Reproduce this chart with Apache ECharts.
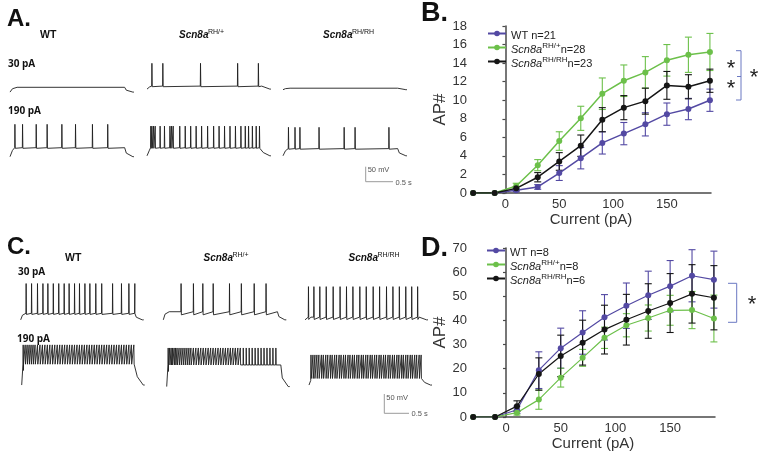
<!DOCTYPE html>
<html>
<head>
<meta charset="utf-8">
<script src="https://cdn.jsdelivr.net/npm/echarts@6/dist/echarts.min.js"></script>
<style>
  html, body { margin: 0; padding: 0; background: #fff; }
  #chart { width: 764px; height: 453px; }
</style>
</head>
<body>
<div id="chart"></div>
<script>
// ---- summary data (B and D) ----
const currents = [-30, -10, 10, 30, 50, 70, 90, 110, 130, 150, 170, 190];

const bWt = [0, 0, 0.3, 0.65, 2.15, 3.75, 5.4, 6.4, 7.4, 8.5, 9.05, 10.0];
const bWtErr = [0, 0, 0.15, 0.25, 0.8, 1.15, 1.2, 1.2, 1.25, 1.2, 1.15, 1.2];
const bHet = [0, 0, 0.75, 3.0, 5.6, 8.05, 10.7, 12.1, 13.0, 14.3, 14.9, 15.2];
const bHetErr = [0, 0, 0.3, 0.6, 1.0, 1.3, 1.7, 1.7, 1.7, 1.7, 1.9, 2.0];
const bHom = [0, 0, 0.5, 1.7, 3.4, 5.1, 7.9, 9.2, 9.9, 11.6, 11.45, 12.1];
const bHomErr = [0, 0, 0.2, 0.5, 0.95, 1.15, 1.3, 1.3, 1.4, 1.5, 1.3, 1.25];

const dWt = [0, 0, 3.0, 19.4, 28.5, 35.0, 41.3, 46.1, 50.4, 54.2, 58.5, 56.9];
const dWtErr = [0, 0, 1.5, 7.6, 8.3, 9.0, 9.4, 9.4, 10.0, 10.6, 10.8, 11.8];
const dHet = [0, 0, 1.8, 7.2, 16.3, 24.5, 32.8, 38.0, 41.0, 44.2, 44.3, 40.8];
const dHetErr = [0, 0, 1.0, 4.0, 3.9, 3.5, 4.4, 4.8, 5.4, 6.2, 7.7, 9.7];
const dHom = [0, 0, 4.5, 17.8, 25.3, 30.8, 36.2, 40.3, 43.9, 47.2, 51.0, 49.4];
const dHomErr = [0, 0, 2.2, 6.7, 8.6, 9.3, 10.1, 10.5, 11.3, 12.2, 12.1, 13.3];

// ---- example traces: spike times (s) ----
const aWt30 = [];
const aHet30 = [0.09, 0.29, 0.98, 1.66, 2.04];
const aHom30 = [];
const aWt190 = [0.09, 0.23, 0.48, 0.68, 0.95, 1.20, 1.51, 1.79];
const aHet190 = [0.07, 0.09, 0.12, 0.15, 0.24, 0.32, 0.42, 0.45, 0.48, 0.60, 0.70, 0.80, 0.90, 1.00,
  1.11, 1.22, 1.32, 1.42, 1.52, 1.62, 1.72, 1.80, 1.86, 1.93, 2.00, 2.06];
const aHom190 = [0.10, 0.22, 0.31, 0.66, 1.12, 1.32, 1.94];

const cWt30 = [0.11, 0.22, 0.34, 0.45, 0.55, 0.66, 0.77, 0.88, 0.98, 1.09, 1.19, 1.30, 1.40, 1.52,
  1.64, 1.86, 2.04, 2.19, 2.31];
const cHet30 = [0.36, 0.61, 0.80, 1.01, 1.34, 1.58, 1.84, 2.08];
const cHom30 = [0.07, 0.18, 0.30, 0.43, 0.57, 0.71, 0.84, 0.97, 1.11, 1.24, 1.38, 1.51, 1.65, 1.78,
  1.91, 2.04, 2.16, 2.28];
const cWt190 = [0.03, 0.07, 0.11, 0.15, 0.19, 0.23, 0.27, 0.32, 0.37, 0.42, 0.47, 0.52, 0.57, 0.62,
  0.67, 0.72, 0.77, 0.82, 0.87, 0.92, 0.97, 1.02, 1.07, 1.12, 1.17, 1.22, 1.27, 1.32, 1.37, 1.42,
  1.47, 1.52, 1.57, 1.62, 1.67, 1.72, 1.77, 1.82, 1.87, 1.92, 1.97, 2.02, 2.07, 2.12, 2.17, 2.22, 2.27];
const cHet190 = [0.03, 0.06, 0.09, 0.12, 0.15, 0.18, 0.21, 0.25, 0.29, 0.33, 0.37, 0.41, 0.45, 0.49,
  0.54, 0.59, 0.64, 0.69, 0.74, 0.79, 0.84, 0.89, 0.94, 0.99, 1.04, 1.09, 1.14, 1.19, 1.24, 1.29,
  1.34, 1.39, 1.44, 1.49, 1.55, 1.61, 1.67, 1.73, 1.79, 1.85, 1.91, 1.97, 2.03, 2.09, 2.15, 2.21];
const cHom190 = [0.04, 0.08, 0.12, 0.16, 0.20, 0.25, 0.29, 0.34, 0.38, 0.43, 0.47, 0.52, 0.56, 0.61,
  0.65, 0.70, 0.74, 0.79, 0.83, 0.88, 0.92, 0.97, 1.01, 1.06, 1.10, 1.15, 1.19, 1.24, 1.28, 1.33,
  1.37, 1.42, 1.46, 1.51, 1.55, 1.60, 1.64, 1.69, 1.73, 1.78, 1.82, 1.87, 1.91, 1.96, 2.00, 2.05,
  2.09, 2.14, 2.18, 2.23, 2.27];

// membrane levels (mV) per trace: WT, RH/+, RH/RH at 30 pA then 190 pA
const aRest = [-70, -60, -62, -75, -72, -72];
const aPlateau = [-54, -50, -57, -45, -45, -48];
const aPeak = [20, 26, 20, 33, 27, 23];
const aAhp = [0, 2, 0, 2, 2, 2];
const cRest = [-72, -72, -72, -72, -76, -72];
const cPlateau = [-55, -51, -65, -18, -20, -55];
const cPeak = [22, 22, 14, 32, 24, 6];
const cAhp = [3, 8, 6, 0, 0, 0];

const FONT = '"Liberation Sans", Arial, sans-serif';
const BLUE = '#5349a3';
const GREEN = '#6cc04a';
const BLACK = '#151515';
const V_MIN = -90, V_MAX = 40;

const panelA = {
  spikes: [aWt30, aHet30, aHom30, aWt190, aHet190, aHom190],
  rest: aRest, plat: aPlateau, peak: aPeak, ahp: aAhp,
  pxPerS: 54.6, pxPerMv: 0.3, onset: 0.03, offset: 2.1, T: 2.27,
  lefts: [10, 147, 283, 10, 147, 283],
  tops: [59.1, 59.1, 59.1, 122.2, 122.2, 122.2]
};
const panelC = {
  spikes: [cWt30, cHet30, cHom30, cWt190, cHet190, cHom190],
  rest: cRest, plat: cPlateau, peak: cPeak, ahp: cAhp,
  pxPerS: 49.4, pxPerMv: 0.386, onset: 0.02, offset: 2.31, T: 2.49,
  lefts: [20.7, 163.3, 305, 21.7, 166.7, 309],
  tops: [276.6, 276.6, 276.6, 341.8, 341.8, 341.8]
};

function buildTrace(p, k) {
  const rest = p.rest[k], plat = p.plat[k], peak = p.peak[k], ahp = p.ahp[k];
  const pts = [[0, rest], [p.onset, rest], [p.onset + 0.015, rest + (plat - rest) * 0.7], [p.onset + 0.1, plat]];
  p.spikes[k].forEach(s => {
    pts.push([s - 0.004, plat], [s, peak], [s + 0.006, plat - ahp]);
  });
  pts.push([p.offset, plat], [p.offset + 0.03, rest + (plat - rest) * 0.4], [p.offset + 0.15, rest], [p.T, rest]);
  return pts.sort((a, b) => a[0] - b[0]);
}

const grids = [], xAxes = [], yAxes = [], series = [];

[panelA, panelC].forEach(p => {
  for (let k = 0; k < 6; k++) {
    const gi = grids.length;
    grids.push({
      left: p.lefts[k], top: p.tops[k],
      width: p.T * p.pxPerS, height: (V_MAX - V_MIN) * p.pxPerMv
    });
    xAxes.push({ gridIndex: gi, type: 'value', min: 0, max: p.T, show: false });
    yAxes.push({ gridIndex: gi, type: 'value', min: V_MIN, max: V_MAX, show: false });
    series.push({
      type: 'line', xAxisIndex: gi, yAxisIndex: gi, data: buildTrace(p, k),
      showSymbol: false, silent: true, lineStyle: { color: '#1e1e1e', width: 0.9 }
    });
  }
});

// summary charts
function errRender(params, api) {
  const x = api.value(0);
  const lo = api.coord([x, api.value(1)]);
  const hi = api.coord([x, api.value(2)]);
  const w = 3.5;
  const style = { stroke: api.visual('color'), lineWidth: 1.1 };
  return {
    type: 'group',
    children: [
      { type: 'line', shape: { x1: lo[0], y1: lo[1], x2: hi[0], y2: hi[1] }, style },
      { type: 'line', shape: { x1: lo[0] - w, y1: lo[1], x2: lo[0] + w, y2: lo[1] }, style },
      { type: 'line', shape: { x1: hi[0] - w, y1: hi[1], x2: hi[0] + w, y2: hi[1] }, style }
    ]
  };
}

function addSummary(gridBox, yMax, yStep, sets, lineW) {
  const gi = grids.length;
  grids.push(gridBox);
  xAxes.push({
    gridIndex: gi, type: 'value', min: -32, max: 191,
    axisLine: { show: true, onZero: false, lineStyle: { color: '#4a4a4a', width: 1.5 } },
    axisTick: { show: false }, splitLine: { show: false },
    axisLabel: { customValues: [0, 50, 100, 150], fontSize: 13, color: '#333', margin: 5, fontFamily: FONT },
    name: 'Current (pA)', nameLocation: 'middle', nameGap: 16,
    nameTextStyle: { fontSize: 15, color: '#333', fontFamily: FONT }
  });
  yAxes.push({
    gridIndex: gi, type: 'value', min: 0, max: yMax, interval: yStep,
    axisLine: { show: true, lineStyle: { color: '#4a4a4a', width: 1.5 } },
    axisTick: { show: true, length: 3, lineStyle: { color: '#4a4a4a', width: 1.2 } },
    splitLine: { show: false },
    axisLabel: { fontSize: 13, color: '#333', margin: 4, fontFamily: FONT },
    name: 'AP#', nameLocation: 'middle', nameGap: 16, nameRotate: 90,
    nameTextStyle: { fontSize: 17, color: '#333', fontFamily: FONT }
  });
  sets.forEach(s => {
    series.push({
      type: 'custom', name: s.name + ' err', xAxisIndex: gi, yAxisIndex: gi,
      renderItem: errRender, itemStyle: { color: s.color }, z: 3, silent: true,
      data: currents.map((c, i) => [c, s.v[i] - s.e[i], s.v[i] + s.e[i], s.e[i]]).filter(d => d[3] > 0)
    });
  });
  sets.forEach(s => {
    series.push({
      type: 'line', name: s.name, xAxisIndex: gi, yAxisIndex: gi,
      data: currents.map((c, i) => [c, s.v[i]]),
      symbol: 'circle', symbolSize: 6, z: 4,
      itemStyle: { color: s.color }, lineStyle: { color: s.color, width: lineW }
    });
  });
}

addSummary({ left: 471, top: 26, width: 240, height: 167 }, 18, 2, [
  { name: 'WT n=21', v: bWt, e: bWtErr, color: BLUE },
  { name: 'Scn8a RH/+ n=28', v: bHet, e: bHetErr, color: GREEN },
  { name: 'Scn8a RH/RH n=23', v: bHom, e: bHomErr, color: BLACK }
], 1.5);
addSummary({ left: 471, top: 248, width: 244, height: 169 }, 70, 10, [
  { name: 'WT n=8', v: dWt, e: dWtErr, color: BLUE },
  { name: 'Scn8a RH/+ n=8', v: dHet, e: dHetErr, color: GREEN },
  { name: 'Scn8a RH/RH n=6', v: dHom, e: dHomErr, color: BLACK }
], 1.2);

const legendRich = {
  t: { fontSize: 11, color: '#222', fontFamily: FONT, lineHeight: 11, padding: [4, 0, 0, 0] },
  i: { fontSize: 11, color: '#222', fontFamily: FONT, fontStyle: 'italic', lineHeight: 11, padding: [4, 0, 0, 0] },
  s: { fontSize: 8, color: '#222', fontFamily: FONT, lineHeight: 8, verticalAlign: 'top' }
};
function legendFmt(name) {
  if (name.startsWith('WT')) return '{t|' + name + '}';
  const parts = name.split(' ');
  return '{i|' + parts[0] + '}{s|' + parts[1] + '}{t|' + parts[2] + '}';
}
function makeLegend(names, left, top) {
  return {
    data: names, left, top, orient: 'vertical', itemWidth: 18, itemHeight: 7, itemGap: -1,
    selectedMode: false, formatter: legendFmt, textStyle: { rich: legendRich }
  };
}

// annotation text helpers
function txt(text, x, y, font, color, align) {
  return {
    type: 'text', silent: true,
    style: { text, x, y, font, fill: color || '#111', align: align || 'left', verticalAlign: 'middle',
      textAlign: align || 'left', textVerticalAlign: 'middle' }
  };
}
function seg(x1, y1, x2, y2, color, w) {
  return { type: 'line', silent: true, shape: { x1, y1, x2, y2 }, style: { stroke: color, lineWidth: w || 1 } };
}
function genoTitle(x, y, sup) {
  return [
    txt('Scn8a', x, y, 'italic bold 10px ' + FONT, '#111'),
    txt(sup, x + 29, y - 3, '7px ' + FONT, '#111')
  ];
}
function scaleBar(p, x, y) {
  const h = 50 * p.pxPerMv, w = 0.5 * p.pxPerS;
  return [
    seg(x, y - h, x, y, '#9a9a9a', 1),
    seg(x, y, x + w, y, '#9a9a9a', 1),
    txt('50 mV', x + 2, y - h + 3.5, '7.5px ' + FONT, '#555'),
    txt('0.5 s', x + w + 2.5, y + 1, '7.5px ' + FONT, '#555')
  ];
}

const graphics = [
  txt('A.', 7, 19, 'bold 24px ' + FONT),
  txt('B.', 421, 14, 'bold 27px ' + FONT),
  txt('C.', 7, 247, 'bold 24px ' + FONT),
  txt('D.', 421, 249, 'bold 27px ' + FONT),
  txt('WT', 40, 35, 'bold 10.5px ' + FONT),
  ...genoTitle(179, 35, 'RH/+'),
  ...genoTitle(323, 35, 'RH/RH'),
  txt('WT', 65, 258.5, 'bold 10.5px ' + FONT),
  ...genoTitle(203.5, 258.5, 'RH/+'),
  ...genoTitle(348.5, 258.5, 'RH/RH'),
  txt('30 pA', 8, 64, 'bold 10px "Open Sans", ' + FONT),
  txt('190 pA', 8, 111, 'bold 10px "Open Sans", ' + FONT),
  txt('30 pA', 18, 272, 'bold 10px "Open Sans", ' + FONT),
  txt('190 pA', 17, 339, 'bold 10px "Open Sans", ' + FONT),
  ...scaleBar(panelA, 365.7, 181.7),
  ...scaleBar(panelC, 384.3, 413.3),
  // significance brackets
  seg(741, 50.7, 741, 100, '#6a78c2', 1),
  seg(736, 50.7, 741, 50.7, '#6a78c2', 1),
  seg(736, 100, 741, 100, '#6a78c2', 1),
  seg(737, 76.5, 741, 76.5, '#6a78c2', 1),
  txt('*', 731, 69, '22px ' + FONT, '#222', 'center'),
  txt('*', 731, 89, '22px ' + FONT, '#222', 'center'),
  txt('*', 754, 78, '22px ' + FONT, '#222', 'center'),
  seg(736.7, 283.3, 736.7, 322.3, '#6a78c2', 1),
  seg(728, 283.3, 736.7, 283.3, '#6a78c2', 1),
  seg(728, 322.3, 736.7, 322.3, '#6a78c2', 1),
  txt('*', 752, 305, '22px ' + FONT, '#222', 'center')
];

const chart = echarts.init(document.getElementById('chart'));
chart.setOption({
  animation: false,
  backgroundColor: '#fff',
  grid: grids,
  xAxis: xAxes,
  yAxis: yAxes,
  legend: [
    makeLegend(['WT n=21', 'Scn8a RH/+ n=28', 'Scn8a RH/RH n=23'], 482, 21),
    makeLegend(['WT n=8', 'Scn8a RH/+ n=8', 'Scn8a RH/RH n=6'], 481, 238)
  ],
  series,
  graphic: graphics
});
</script>
</body>
</html>
